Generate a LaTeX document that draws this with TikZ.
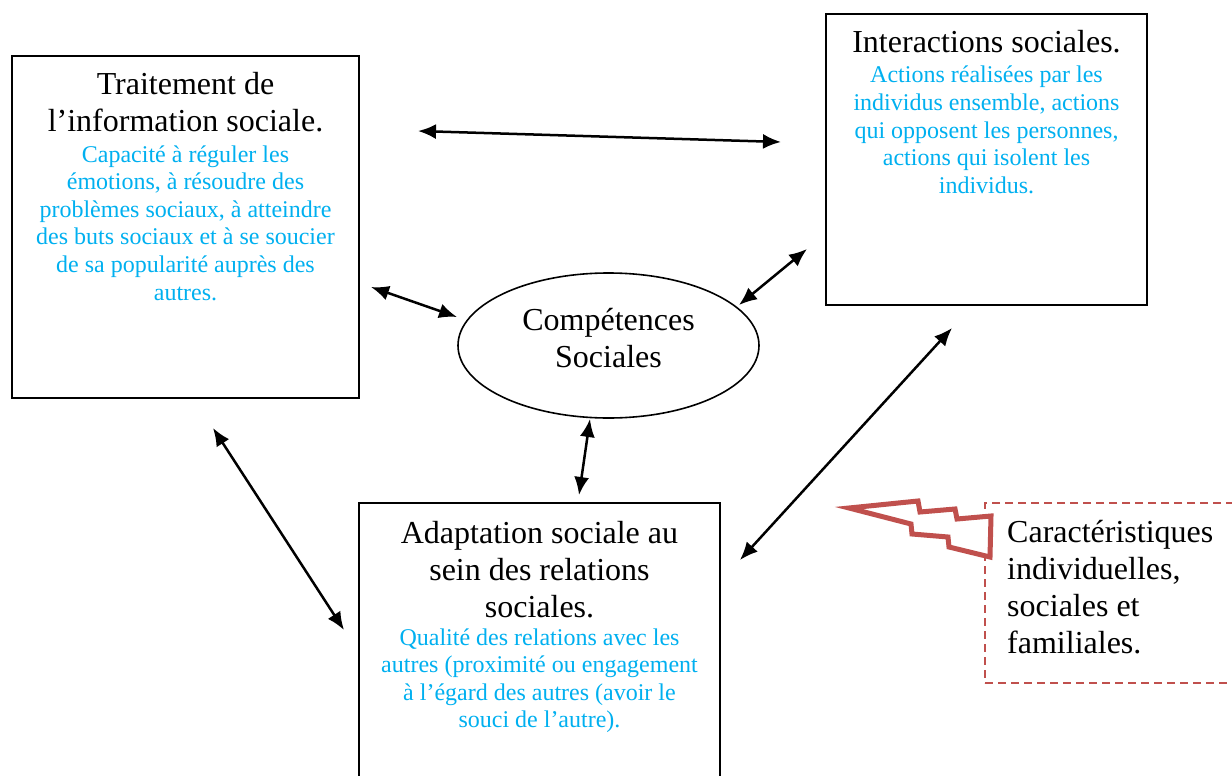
\documentclass[tikz,border=0pt]{standalone}
\usepackage{fontspec}
\setmainfont{Liberation Serif}
\usetikzlibrary{arrows.meta,shapes.geometric}
\definecolor{descblue}{HTML}{00B0F0}
\definecolor{boltred}{HTML}{C0504D}
\newcommand{\clines}[1]{\begin{tabular}[t]{@{}c@{}}#1\end{tabular}}
\newcommand{\llines}[1]{\begin{tabular}[t]{@{}l@{}}#1\end{tabular}}
\tikzset{
  mainbox/.style={draw=black, line width=2pt, rectangle, inner sep=0pt},
  titletext/.style={anchor=base, inner sep=0pt, font=\fontsize{32}{37}\selectfont, text=black},
  desctext/.style={anchor=base, inner sep=0pt, font=\fontsize{24}{27.6}\selectfont, text=descblue},
  link/.style={line width=2.5pt, {Latex[length=18pt,width=15pt]}-{Latex[length=18pt,width=15pt]}},
}
\begin{document}
\begin{tikzpicture}[x=1pt,y=-1pt]
\useasboundingbox (0,0) rectangle (1232,776);
\clip (0,0) rectangle (1232,776);
\fill[white] (0,0) rectangle (1232,776);

% boxes
\node[mainbox, minimum width=347pt, minimum height=342pt] (b1) at (185.5,227) {};
\node[mainbox, minimum width=321pt, minimum height=291pt] (b2) at (986.5,159.5) {};
\node[mainbox, minimum width=361pt, minimum height=297pt] (b3) at (539.5,651.5) {};
\node[ellipse, draw=black, line width=1.6pt, minimum width=301pt, minimum height=145pt, inner sep=0pt] (cs) at (608.5,345.5) {};
\node[draw=boltred, line width=2.2pt, dash pattern=on 8pt off 5pt, rectangle, inner sep=0pt, minimum width=275pt, minimum height=180pt] (car) at (1122.5,593) {};

% texts
\node[titletext] (b1t) at (185.5,95) {\clines{Traitement de\\l’information sociale.}};
\node[desctext] (b1d) at (185.5,162) {\clines{Capacité à réguler les\\émotions, à résoudre des\\problèmes sociaux, à atteindre\\des buts sociaux et à se soucier\\de sa popularité auprès des\\autres.}};
\node[titletext] (b2t) at (986.5,53) {\clines{Interactions sociales.}};
\node[desctext] (b2d) at (986.5,83) {\clines{Actions réalisées par les\\individus ensemble, actions\\qui opposent les personnes,\\actions qui isolent les\\individus.}};
\node[titletext] (b3t) at (539.5,543) {\clines{Adaptation sociale au\\sein des relations\\sociales.}};
\node[desctext] (b3d) at (539.5,645) {\clines{Qualité des relations avec les\\autres (proximité ou engagement\\à l’égard des autres (avoir le\\souci de l’autre).}};
\node[titletext] (cst) at (608.5,330) {\clines{Compétences\\Sociales}};
\node[titletext, anchor=base west] (cart) at (1007,542) {\llines{Caractéristiques\\individuelles,\\sociales et\\familiales.}};

% bolt
\filldraw[draw=boltred, fill=white, line width=5pt, line join=miter]
  (849,508) -- (918,501) -- (920,512) -- (955,509) -- (957,519) -- (991,516)
  -- (990,557) -- (949,547) -- (948,537) -- (912,534) -- (911,524) -- cycle;

% connector ends
\coordinate (a1s) at (418,131); \coordinate (a1e) at (781,142);
\coordinate (a2s) at (371,287); \coordinate (a2e) at (457,317);
\coordinate (a3s) at (739,305); \coordinate (a3e) at (807,249);
\coordinate (a4s) at (590,419); \coordinate (a4e) at (579,495);
\coordinate (a5s) at (213,428); \coordinate (a5e) at (344,630);
\coordinate (a6s) at (952,328); \coordinate (a6e) at (740,560);

\draw[link] (a1s) -- (a1e);
\draw[link] (a2s) -- (a2e);
\draw[link] (a3s) -- (a3e);
\draw[link] (a4s) -- (a4e);
\draw[link] (a5s) -- (a5e);
\draw[link] (a6s) -- (a6e);
\end{tikzpicture}
\end{document}
